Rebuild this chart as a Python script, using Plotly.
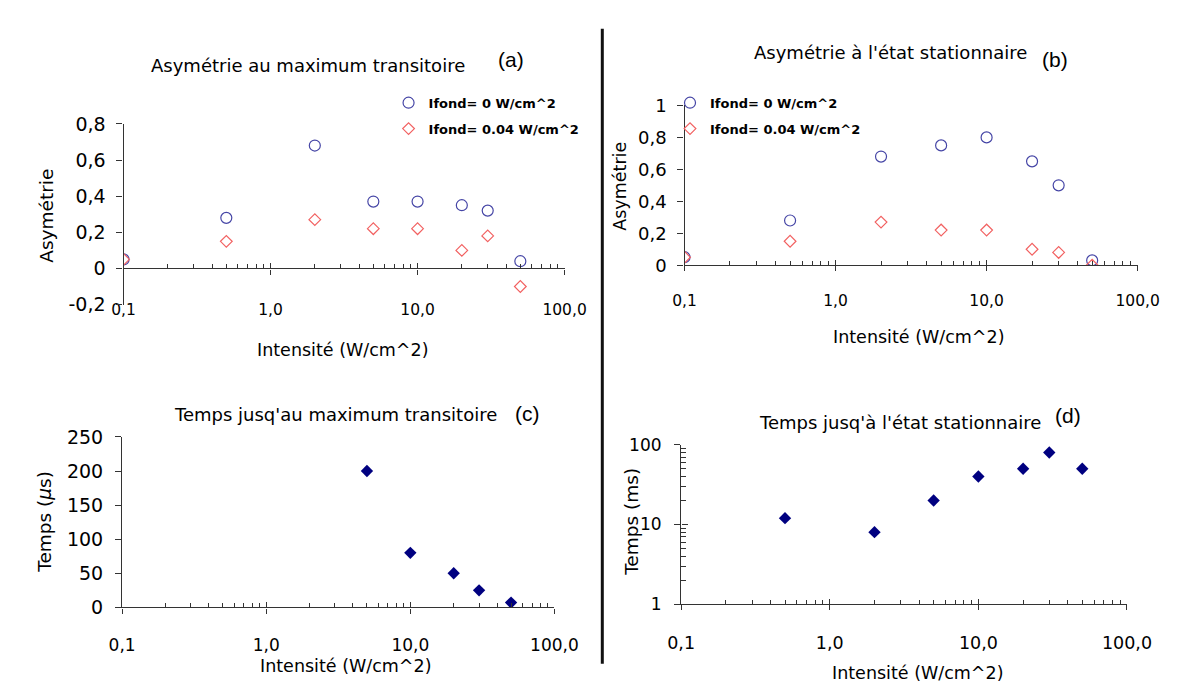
import plotly.graph_objects as go

W, H = 1188, 691

# ---------------- data ----------------
intensite = [0.1, 0.5, 2, 5, 10, 20, 30, 50]
asym_trans_0 = [0.05, 0.28, 0.68, 0.37, 0.37, 0.35, 0.32, 0.04]
asym_trans_004 = [0.05, 0.15, 0.27, 0.22, 0.22, 0.10, 0.18, -0.10]
asym_stat_0 = [0.05, 0.28, 0.68, 0.75, 0.80, 0.65, 0.50, 0.03]
asym_stat_004 = [0.05, 0.15, 0.27, 0.22, 0.22, 0.10, 0.08, 0.0]

intensite_c = [5, 10, 20, 30, 50]
temps_trans_us = [200, 80, 50, 25, 7]

intensite_d = [0.5, 2, 5, 10, 20, 30, 50]
temps_stat_ms = [12, 8, 20, 40, 50, 80, 50]

series_names = ["Ifond= 0 W/cm^2", "Ifond= 0.04 W/cm^2"]

x_tickvals = [0.1, 1, 10, 100]
x_ticktext = ["0,1", "1,0", "10,0", "100,0"]
ya_vals = [-0.2, 0, 0.2, 0.4, 0.6, 0.8]
ya_text = ["-0,2", "0", "0,2", "0,4", "0,6", "0,8"]
yb_vals = [0, 0.2, 0.4, 0.6, 0.8, 1]
yb_text = ["0", "0,2", "0,4", "0,6", "0,8", "1"]
yc_vals = [0, 50, 100, 150, 200, 250]
yd_vals = [1, 10, 100]
yd_text = ["1", "10", "100"]

log_minor = [m * 10.0 ** e for e in (-1, 0, 1) for m in range(2, 10)]
logy_minor = [m * 10.0 ** e for e in (0, 1) for m in range(2, 10)]

BLUE = "#4646a6"
RED = "#f26262"
NAVY = "#000080"
AX = "#333333"
FONT = "DejaVu Sans"


def fx(px):
    return px / W


def fy(py):
    return 1 - py / H


# panel geometry in pixels: x0, x1, ytop, ybottom, axis-line y
P = {
    "a": dict(x0=105, x1=561, yt=108.3, yb=295, line=257.7),
    "b": dict(x0=685, x1=1153.5, yt=89.3, yb=254.3, line=254.3),
    "c": dict(x0=103.5, x1=550.5, yt=431.7, yb=607.7, line=607.7),
    "d": dict(x0=681.5, x1=1142.5, yt=439.8, yb=604.3, line=604.3),
}

fig = go.Figure()

# panel (a)
fig.add_trace(go.Scatter(x=intensite, y=asym_trans_0, mode="markers", name=series_names[0],
                         marker=dict(symbol="circle-open", size=11, color=BLUE, line=dict(width=1.2)),
                         xaxis="x", yaxis="y", legend="legend", legendgroup="a0"))
fig.add_trace(go.Scatter(x=intensite, y=asym_trans_004, mode="markers", name=series_names[1],
                         marker=dict(symbol="diamond-open", size=9, color=RED, line=dict(width=1.2)),
                         xaxis="x", yaxis="y", legend="legend", legendgroup="a1"))
# panel (b)
fig.add_trace(go.Scatter(x=intensite, y=asym_stat_0, mode="markers", name=series_names[0],
                         marker=dict(symbol="circle-open", size=11, color=BLUE, line=dict(width=1.2)),
                         xaxis="x2", yaxis="y2", legend="legend2", legendgroup="b0"))
fig.add_trace(go.Scatter(x=intensite, y=asym_stat_004, mode="markers", name=series_names[1],
                         marker=dict(symbol="diamond-open", size=9, color=RED, line=dict(width=1.2)),
                         xaxis="x2", yaxis="y2", legend="legend2", legendgroup="b1"))
# panel (c)
fig.add_trace(go.Scatter(x=intensite_c, y=temps_trans_us, mode="markers", showlegend=False,
                         marker=dict(symbol="diamond", size=9.5, color=NAVY),
                         xaxis="x3", yaxis="y3"))
# panel (d)
fig.add_trace(go.Scatter(x=intensite_d, y=temps_stat_ms, mode="markers", showlegend=False,
                         marker=dict(symbol="diamond", size=9.5, color=NAVY),
                         xaxis="x4", yaxis="y4"))

# dummy traces so overlay (tick-crossing) axes are drawn
for xa, ya in [("x5", "y"), ("x6", "y2"), ("x7", "y3"), ("x8", "y4"), ("x4", "y5")]:
    fig.add_trace(go.Scatter(x=[], y=[], xaxis=xa, yaxis=ya, showlegend=False, hoverinfo="skip"))

layout = dict(
    width=W, height=H, margin=dict(l=0, r=0, t=0, b=0),
    paper_bgcolor="white", plot_bgcolor="white",
    font=dict(family=FONT, color="black"),
    showlegend=True,
)

keys = ["a", "b", "c", "d"]
yvals = [ya_vals, yb_vals, yc_vals, yd_vals]
ytexts = [ya_text, yb_text, [str(v) for v in yc_vals], yd_text]
yranges = [[-0.2, 0.8], [0, 1], [0, 250], [0, 2]]
xfont = [15.5, 15.5, 17, 17.5]
yfont = [19, 18, 19, 17]
ystand = [7, 7, 8, 9]
xstand = [22, 16, 17, 18]

for i, k in enumerate(keys):
    p = P[k]
    n = "" if i == 0 else str(i + 1)
    dom_x = [fx(p["x0"]), fx(p["x1"])]
    dom_y = [fy(p["yb"]), fy(p["yt"])]
    xa = dict(
        type="log", range=[-1, 2], domain=dom_x,
        showgrid=False, zeroline=False, showline=True, linecolor=AX, linewidth=1.3,
        ticks="outside", ticklen=5, tickwidth=1.2, tickcolor=AX,
        tickmode="array", tickvals=x_tickvals, ticktext=x_ticktext,
        tickfont=dict(family=FONT, size=xfont[i], color="black"),
        ticklabelstandoff=xstand[i],
        minor=dict(ticks="inside", ticklen=4, tickwidth=1.1, tickcolor=AX,
                   tickmode="array", tickvals=log_minor, showgrid=False),
    )
    if k == "a":
        xa.update(anchor="free", position=fy(p["line"]))
    else:
        xa.update(anchor="y" + n)
    layout["xaxis" + n] = xa

    ya = dict(
        domain=dom_y, range=yranges[i], anchor="x" + n,
        showgrid=False, zeroline=False, showline=True, linecolor=AX, linewidth=1.3,
        ticks="outside", ticklen=6, tickwidth=1.2, tickcolor=AX,
        tickmode="array", tickvals=yvals[i], ticktext=ytexts[i],
        tickfont=dict(family=FONT, size=yfont[i], color="black"),
        ticklabelstandoff=ystand[i],
    )
    if k == "d":
        ya.update(type="log",
                  minor=dict(ticks="inside", ticklen=5, tickwidth=1.1, tickcolor=AX,
                             tickmode="array", tickvals=logy_minor, showgrid=False))
    layout["yaxis" + n] = ya

    # overlay axis for inner half of crossing major ticks
    layout["xaxis" + str(i + 5)] = dict(
        type="log", range=[-1, 2], domain=dom_x, overlaying="x" + n,
        anchor="free", position=fy(p["line"]),
        showgrid=False, zeroline=False, showline=False,
        ticks="inside", ticklen=5, tickwidth=1.2, tickcolor=AX,
        tickmode="array", tickvals=x_tickvals, showticklabels=False,
    )

layout["yaxis5"] = dict(
    type="log", range=[0, 2], domain=[fy(P["d"]["yb"]), fy(P["d"]["yt"])], overlaying="y4",
    anchor="free", position=fx(P["d"]["x0"]), side="left",
    showgrid=False, zeroline=False, showline=False,
    ticks="inside", ticklen=6, tickwidth=1.2, tickcolor=AX,
    tickmode="array", tickvals=yd_vals, showticklabels=False,
)

leg_common = dict(
    xanchor="left", yanchor="top", bgcolor="rgba(0,0,0,0)",
    font=dict(family=FONT, size=13, color="black", weight="bold"),
    tracegroupgap=6, traceorder="grouped", itemclick=False, itemdoubleclick=False,
)
layout["legend"] = dict(leg_common, x=fx(379), y=fy(71))
layout["legend2"] = dict(leg_common, x=fx(670), y=fy(71))

fig.update_layout(**layout)

# titles, panel letters, axis titles
TITLE_SIZE = 18
AXT_SIZE = 17.5
texts = [
    ("Asymétrie au maximum transitoire", 296, 48, TITLE_SIZE, 0, FONT),
    ("Asymétrie à l'état stationnaire", 898, 35, TITLE_SIZE, 0, FONT),
    ("Temps jusq'au maximum transitoire", 324, 409, TITLE_SIZE, 0, FONT),
    ("Temps jusq'à l'état stationnaire", 908, 417, TITLE_SIZE, 0, FONT),
    ("(a)", 506, 42, 21, 0, "Liberation Sans"),
    ("(b)", 1068, 42, 21, 0, "Liberation Sans"),
    ("(c)", 523, 407, 21, 0, "Liberation Sans"),
    ("(d)", 1081, 410, 21, 0, "Liberation Sans"),
    ("Intensité (W/cm^2)", 331, 342, AXT_SIZE, 0, FONT),
    ("Intensité (W/cm^2)", 927, 328, AXT_SIZE, 0, FONT),
    ("Intensité (W/cm^2)", 334, 668, AXT_SIZE, 0, FONT),
    ("Intensité (W/cm^2)", 926, 675, AXT_SIZE, 0, FONT),
    ("Asymétrie", 25, 203, 18.5, -90, FONT),
    ("Asymétrie", 618, 172.5, 17.5, -90, FONT),
    ("Temps (<i>μ</i>s)", 23, 519, 18.5, -90, FONT),
    ("Temps (ms)", 630, 519, 18.5, -90, FONT),
]
for t, x, y, s, ang, fam in texts:
    fig.add_annotation(text=t, x=fx(x), y=fy(y), xref="paper", yref="paper",
                       showarrow=False, xanchor="center", yanchor="middle",
                       textangle=ang, font=dict(family=fam, size=s, color="black"))

# vertical separator between left and right panels
fig.add_shape(type="line", xref="paper", yref="paper",
              x0=fx(600), x1=fx(600), y0=fy(10), y1=fy(666),
              line=dict(color="#111111", width=3))

fig.write_html("out.html")
